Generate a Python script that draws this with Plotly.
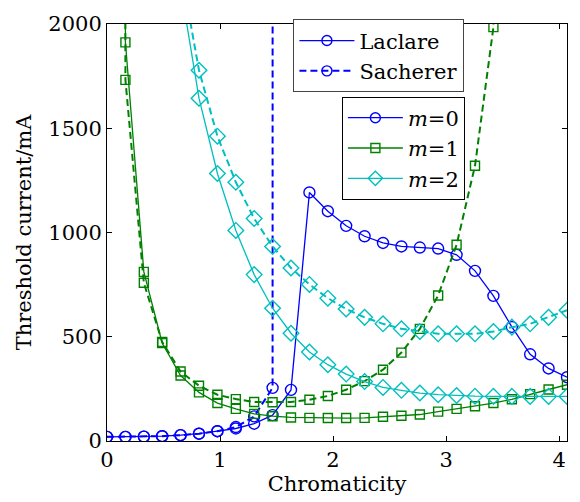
import plotly.graph_objects as go

# Chromaticity grid
chroma = [0.0, 0.163, 0.326, 0.488, 0.651, 0.814, 0.977, 1.140, 1.302, 1.465,
          1.628, 1.791, 1.954, 2.116, 2.279, 2.442, 2.605, 2.768, 2.930, 3.093,
          3.256, 3.419, 3.582, 3.744, 3.907, 4.070]

# Threshold currents (mA)
laclare_m0 = [20, 20, 21, 23, 28, 35, 47, 60, 83, 124, 245, 1192, 1102, 1032, 982,
              950, 933, 928, 923, 893, 816, 696, 547, 416, 348, 306]
sacherer_m0 = [20, 20, 21, 23, 28, 35, 47, 67, 118, 255, 1e6, None, None, None, None,
               None, None, None, None, None, None, None, None, None, None, None]

laclare_m1 = [1e5, 1912, 811, 470, 314, 233, 182, 154, 130, 119, 113, 111, 110, 110,
              111, 116, 121, 127, 141, 154, 167, 182, 200, 225, 247, 270]
sacherer_m1 = [1e5, 1732, 759, 475, 333, 265, 222, 201, 187, 186, 187, 198, 216, 246,
               287, 342, 424, 538, 698, 941, 1320, 1985, 6000, None, None, None]

laclare_m2 = [None, None, None, None, 2180, 1644, 1283, 1010, 798, 637, 517, 427, 366,
              321, 285, 257, 243, 230, 222, 218, 215, 214, 214, 214, 214, 214]
sacherer_m2 = [None, None, None, None, 2270, 1778, 1462, 1241, 1067, 933, 830, 751, 685,
               633, 593, 562, 538, 525, 514, 514, 514, 525, 546, 562, 593, 627]

x_ticks = [0, 1, 2, 3, 4]
y_ticks = [0, 500, 1000, 1500, 2000]

BLUE, GREEN, CYAN = "#0000ff", "#008000", "#00bfbf"
FONT = "DejaVu Serif, serif"
FS = 21
DASH = "7px,4px"
SOLID_W, DASH_W = 1.3, 2.0

series = [
    (laclare_m0, BLUE, "circle-open", 11, "solid"),
    (sacherer_m0, BLUE, "circle-open", 11, DASH),
    (laclare_m1, GREEN, "square-open", 9, "solid"),
    (sacherer_m1, GREEN, "square-open", 9, DASH),
    (laclare_m2, CYAN, "diamond-open", 12, "solid"),
    (sacherer_m2, CYAN, "diamond-open", 12, DASH),
]

fig = go.Figure()
for ys, col, sym, sz, dash in series:
    w = SOLID_W if dash == "solid" else DASH_W
    fig.add_trace(go.Scatter(
        x=chroma, y=ys, mode="lines+markers", showlegend=False,
        line=dict(color=col, width=w, dash=dash),
        marker=dict(symbol=sym, size=sz, color=col, line=dict(width=1.4, color=col)),
        connectgaps=False, cliponaxis=True,
    ))

# Legend 1: method
for name, dash in [("Laclare", "solid"), ("Sacherer", DASH)]:
    w = SOLID_W if dash == "solid" else DASH_W
    fig.add_trace(go.Scatter(
        x=[None], y=[None], mode="lines+markers", name=name, legend="legend",
        line=dict(color=BLUE, width=w, dash=dash),
        marker=dict(symbol="circle-open", size=10, color=BLUE, line=dict(width=1.4, color=BLUE)),
    ))

# Legend 2: mode number
for name, col, sym, sz in [("<i>m</i>=0", BLUE, "circle-open", 10),
                           ("<i>m</i>=1", GREEN, "square-open", 9),
                           ("<i>m</i>=2", CYAN, "diamond-open", 11)]:
    fig.add_trace(go.Scatter(
        x=[None], y=[None], mode="lines+markers", name=name, legend="legend2",
        line=dict(color=col, width=SOLID_W),
        marker=dict(symbol=sym, size=sz, color=col, line=dict(width=1.4, color=col)),
    ))

axis_common = dict(
    showline=True, mirror="ticks", linecolor="black", linewidth=1,
    ticks="inside", ticklen=5, tickwidth=1, tickcolor="black",
    showgrid=False, zeroline=False,
    tickfont=dict(family=FONT, size=FS, color="black"),
)

fig.update_layout(
    width=580, height=502,
    margin=dict(l=107, r=12, t=21, b=59),
    paper_bgcolor="white", plot_bgcolor="white",
    font=dict(family=FONT, size=FS, color="black"),
    xaxis=dict(range=[0, 4.07], tickvals=x_ticks,
               title=dict(text="Chromaticity", font=dict(family=FONT, size=FS), standoff=3),
               **axis_common),
    yaxis=dict(range=[0, 2000], tickvals=y_ticks,
               title=dict(text="Threshold current/mA", font=dict(family=FONT, size=FS), standoff=10),
               **axis_common),
    legend=dict(x=0.777, y=1.011, xanchor="right", yanchor="top",
                bgcolor="white", bordercolor="#444", borderwidth=1, tracegroupgap=0,
                font=dict(family=FONT, size=FS, color="black"), itemwidth=55),
    legend2=dict(x=0.778, y=0.826, xanchor="right", yanchor="top",
                 bgcolor="white", bordercolor="black", borderwidth=1,
                 font=dict(family=FONT, size=FS, color="black"), itemwidth=55, tracegroupgap=0),
)

fig.write_html("out.html")
